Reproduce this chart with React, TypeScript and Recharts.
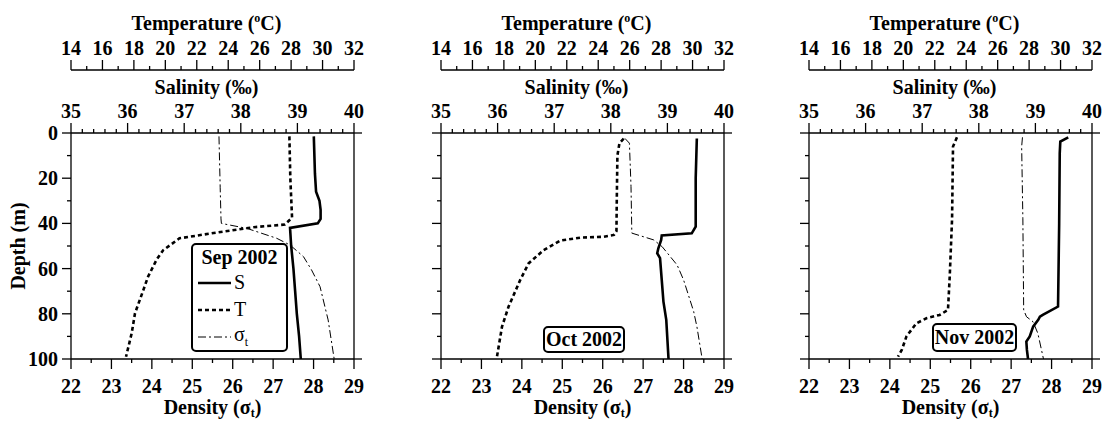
import React from 'react';
import { ScatterChart, Scatter, XAxis, YAxis, Legend } from 'recharts';

type Pt = { d: number; v: number };

// axis labels
const TEMP_LABELS = [14, 16, 18, 20, 22, 24, 26, 28, 30, 32];
const SAL_LABELS = [35, 36, 37, 38, 39, 40];
const DENS_LABELS = [22, 23, 24, 25, 26, 27, 28, 29];
const DEPTH_LABELS = [0, 20, 40, 60, 80, 100];
const MONTHS = ['Sep 2002', 'Oct 2002', 'Nov 2002'];
const SERIES_NAMES = ['S', 'T', 'σt'];

// Sep 2002 profiles (depth m, value)
const sepS: Pt[] = [
  { d: 1.5, v: 39.29 }, { d: 18, v: 39.31 }, { d: 26, v: 39.33 }, { d: 30, v: 39.39 },
  { d: 34, v: 39.41 }, { d: 38, v: 39.41 }, { d: 40, v: 39.36 }, { d: 42, v: 38.87 },
  { d: 50, v: 38.89 }, { d: 60, v: 38.93 }, { d: 70, v: 38.96 }, { d: 80, v: 38.99 },
  { d: 90, v: 39.03 }, { d: 100, v: 39.06 },
];
const sepT: Pt[] = [
  { d: 1.5, v: 27.89 }, { d: 20, v: 27.95 }, { d: 37.5, v: 28.06 }, { d: 40.5, v: 27.6 },
  { d: 41.7, v: 25.6 }, { d: 44, v: 23.3 }, { d: 46.6, v: 20.9 }, { d: 51.8, v: 19.87 },
  { d: 56, v: 19.45 }, { d: 63.6, v: 18.9 }, { d: 69.5, v: 18.6 }, { d: 79.8, v: 18.07 },
  { d: 88.6, v: 17.86 }, { d: 99, v: 17.5 },
];
const sepD: Pt[] = [
  { d: 1.5, v: 25.66 }, { d: 24, v: 25.69 }, { d: 38, v: 25.71 }, { d: 40, v: 25.72 },
  { d: 42.2, v: 26.35 }, { d: 46.6, v: 27.09 }, { d: 49.6, v: 27.42 }, { d: 54.7, v: 27.75 },
  { d: 60.6, v: 27.95 }, { d: 68, v: 28.16 }, { d: 82.7, v: 28.36 }, { d: 100, v: 28.51 },
];

// Oct 2002
const octS: Pt[] = [
  { d: 2.4, v: 39.52 }, { d: 20, v: 39.5 }, { d: 41.4, v: 39.5 }, { d: 44.4, v: 39.43 },
  { d: 45.3, v: 38.9 }, { d: 47.3, v: 38.89 }, { d: 51, v: 38.84 }, { d: 53.2, v: 38.82 },
  { d: 55.4, v: 38.87 }, { d: 65, v: 38.9 }, { d: 74.6, v: 38.93 }, { d: 82.7, v: 38.98 },
  { d: 100, v: 39.02 },
];
const octT: Pt[] = [
  { d: 2.5, v: 25.62 }, { d: 4.5, v: 25.35 }, { d: 10, v: 25.22 }, { d: 30, v: 25.18 },
  { d: 43.4, v: 25.16 }, { d: 45.1, v: 25.0 }, { d: 45.9, v: 24.34 }, { d: 46.3, v: 22.86 },
  { d: 47.6, v: 21.59 }, { d: 51.8, v: 20.53 }, { d: 57.7, v: 19.57 }, { d: 65, v: 19.04 },
  { d: 76.8, v: 18.3 }, { d: 85.7, v: 17.88 }, { d: 99, v: 17.56 },
];
const octD: Pt[] = [
  { d: 2.4, v: 26.55 }, { d: 4.5, v: 26.66 }, { d: 23.7, v: 26.7 }, { d: 44.3, v: 26.72 },
  { d: 47.3, v: 27.26 }, { d: 50.3, v: 27.47 }, { d: 58.4, v: 27.84 }, { d: 65, v: 28.0 },
  { d: 79, v: 28.25 }, { d: 85.7, v: 28.33 }, { d: 100, v: 28.46 },
];

// Nov 2002
const novS: Pt[] = [
  { d: 1.9, v: 39.58 }, { d: 3.8, v: 39.44 }, { d: 9, v: 39.43 }, { d: 40, v: 39.42 },
  { d: 76.8, v: 39.4 }, { d: 80.5, v: 39.13 }, { d: 81.3, v: 39.08 }, { d: 82.7, v: 39.05 },
  { d: 85.7, v: 38.96 }, { d: 90, v: 38.9 }, { d: 92.3, v: 38.84 }, { d: 96, v: 38.85 },
  { d: 100, v: 38.87 },
];
const novT: Pt[] = [
  { d: 1.9, v: 23.41 }, { d: 6, v: 23.16 }, { d: 38, v: 23.1 }, { d: 63.6, v: 22.95 },
  { d: 78.3, v: 22.84 }, { d: 80.5, v: 22.31 }, { d: 82, v: 21.47 }, { d: 84.2, v: 20.83 },
  { d: 90, v: 20.2 }, { d: 96, v: 19.9 }, { d: 99, v: 19.66 },
];
const novD: Pt[] = [
  { d: 1.9, v: 27.28 }, { d: 6, v: 27.26 }, { d: 38, v: 27.29 }, { d: 78.3, v: 27.31 },
  { d: 81.3, v: 27.38 }, { d: 83.5, v: 27.54 }, { d: 88.6, v: 27.66 }, { d: 100, v: 27.8 },
];

const FONT = "'Liberation Serif', 'Times New Roman', Times, serif";
const TICK_FONT: React.CSSProperties = { fontFamily: FONT, fontWeight: 'bold', fontSize: 20, fill: '#000' };
const AX = '#000';
const TS = 10;
const TM = 4;
const OFF = TS + TM;

const withMinor = (major: number[], parts: number) =>
  major.flatMap((m, i) =>
    i === major.length - 1
      ? [m]
      : Array.from({ length: parts }, (_, k) => +(m + ((major[i + 1] - m) * k) / parts).toFixed(3))
  );

const isIn = (arr: number[], v: number) => arr.some((a) => Math.abs(a - v) < 1e-6);

const xTick = (side: 'top' | 'bottom', labels: number[]) => (p: any) => {
  const v = p.payload.value;
  const major = isIn(labels, v);
  const ly = side === 'top' ? p.y + OFF : p.y - OFF;
  const dir = side === 'top' ? -1 : 1;
  return (
    <g>
      <line x1={p.x} x2={p.x} y1={ly} y2={ly + dir * (major ? 10 : 4)} stroke={AX} strokeWidth={1.3} />
      {major && (
        <text x={p.x} y={side === 'top' ? ly - 15 : ly + 34} textAnchor="middle" style={TICK_FONT}>
          {v}
        </text>
      )}
    </g>
  );
};

const yTickLeft = (showLabels: boolean) => (p: any) => {
  const v = p.payload.value;
  const major = isIn(DEPTH_LABELS, v);
  const lx = p.x + OFF;
  return (
    <g>
      <line x1={lx} x2={lx - (major ? 9 : 4)} y1={p.y} y2={p.y} stroke={AX} strokeWidth={1.3} />
      {major && showLabels && (
        <text x={lx - 13} y={p.y + 7} textAnchor="end" style={TICK_FONT}>
          {v}
        </text>
      )}
    </g>
  );
};

const yTickRight = (p: any) => {
  const lx = p.x - OFF;
  return <line x1={lx} x2={lx + 8} y1={p.y} y2={p.y} stroke={AX} strokeWidth={1.3} />;
};

const titleStyle: React.CSSProperties = { fontFamily: FONT, fontWeight: 'bold', fontSize: 20, fill: '#000' };

const tempTitle = (p: any) => {
  const vb = p.viewBox;
  return (
    <text x={vb.x + vb.width / 2 - 6} y={vb.y + vb.height - 40} textAnchor="middle" style={titleStyle}>
      Temperature (<tspan fontSize={12} dy={-8}>o</tspan>
      <tspan dy={8}>C)</tspan>
    </text>
  );
};

const salTitle = (p: any) => {
  const vb = p.viewBox;
  return (
    <text x={vb.x + vb.width / 2 - 6} y={vb.y + vb.height - 39} textAnchor="middle" style={titleStyle}>
      Salinity (‰)
    </text>
  );
};

const densTitle = (p: any) => {
  const vb = p.viewBox;
  return (
    <text x={vb.x + vb.width / 2} y={vb.y + 55} textAnchor="middle" style={titleStyle}>
      Density (σ<tspan fontSize={12} dy={3}>t</tspan>
      <tspan dy={-3}>)</tspan>
    </text>
  );
};

const depthTitle = (p: any) => {
  const vb = p.viewBox;
  const cx = vb.x + 18;
  const cy = vb.y + vb.height / 2;
  return (
    <text
      x={cx}
      y={cy}
      transform={`rotate(-90 ${cx} ${cy})`}
      textAnchor="middle"
      dominantBaseline="central"
      style={titleStyle}
    >
      Depth (m)
    </text>
  );
};

const LINE_S = { stroke: '#000', strokeWidth: 2.6 };
const LINE_T = { stroke: '#000', strokeWidth: 2.6, strokeDasharray: '4 3' };
const LINE_D = { stroke: '#000', strokeWidth: 1, strokeDasharray: '8 3 2 3' };
const LINES = [LINE_S, LINE_T, LINE_D];

const noDot = () => <g />;

const boxBase: React.CSSProperties = {
  boxSizing: 'border-box',
  border: '2px solid #000',
  borderRadius: 5,
  background: '#fff',
  fontFamily: FONT,
  fontSize: 20,
  color: '#000',
};

const FullLegend = ({ title }: { title: string }) => (
  <div style={{ ...boxBase, width: 97, height: 109, padding: '0 5px' }}>
    <div style={{ fontWeight: 'bold', lineHeight: '24px', textAlign: 'center', color: '#000' }}>{title}</div>
    {SERIES_NAMES.map((n, i) => (
      <div key={n} style={{ display: 'flex', alignItems: 'center', height: 27, color: '#000' }}>
        <svg width={33} height={10} style={{ marginRight: 3 }}>
          <line x1={0} x2={33} y1={5} y2={5} {...LINES[i]} />
        </svg>
        <span style={{ color: '#000' }}>
          {i === 2 ? (
            <>
              σ<sub style={{ fontSize: 12, color: '#000' }}>t</sub>
            </>
          ) : (
            n
          )}
        </span>
      </div>
    ))}
  </div>
);

const MonthBox = ({ title, w, h }: { title: string; w: number; h: number }) => (
  <div
    style={{
      ...boxBase,
      width: w,
      height: h,
      fontWeight: 'bold',
      display: 'flex',
      alignItems: 'center',
      justifyContent: 'center',
    }}
  >
    {title}
  </div>
);

type PanelProps = {
  s: Pt[];
  t: Pt[];
  dens: Pt[];
  first: boolean;
  legend: React.ReactNode;
  legendPos: { left: number; top: number };
};

function Panel({ s, t, dens, first, legend, legendPos }: PanelProps) {
  return (
    <ScatterChart width={370} height={423} margin={{ top: 7, right: 0, bottom: 4, left: 0 }}>
      <XAxis
        xAxisId="sal"
        type="number"
        dataKey="v"
        orientation="top"
        height={63}
        domain={[35, 40]}
        allowDataOverflow
        ticks={withMinor(SAL_LABELS, 5)}
        interval={0}
        tickSize={TS}
        tickMargin={TM}
        tickLine={false}
        tick={xTick('top', SAL_LABELS)}
        axisLine={{ stroke: AX, strokeWidth: 1.3 }}
        label={salTitle}
      />
      <XAxis
        xAxisId="temp"
        type="number"
        dataKey="v"
        orientation="top"
        height={63}
        domain={[14, 32]}
        allowDataOverflow
        ticks={withMinor(TEMP_LABELS, 2)}
        interval={0}
        tickSize={TS}
        tickMargin={TM}
        tickLine={false}
        tick={xTick('top', TEMP_LABELS)}
        axisLine={{ stroke: AX, strokeWidth: 1.3 }}
        label={tempTitle}
      />
      <XAxis
        xAxisId="dens"
        type="number"
        dataKey="v"
        orientation="bottom"
        height={60}
        domain={[22, 29]}
        allowDataOverflow
        ticks={withMinor(DENS_LABELS, 2)}
        interval={0}
        tickSize={TS}
        tickMargin={TM}
        tickLine={false}
        tick={xTick('bottom', DENS_LABELS)}
        axisLine={{ stroke: AX, strokeWidth: 1.3 }}
        label={densTitle}
      />
      <YAxis
        yAxisId="depth"
        type="number"
        dataKey="d"
        width={71}
        reversed
        domain={[0, 100]}
        allowDataOverflow
        ticks={withMinor(DEPTH_LABELS, 2)}
        interval={0}
        tickSize={TS}
        tickMargin={TM}
        tickLine={false}
        tick={yTickLeft(first)}
        axisLine={{ stroke: AX, strokeWidth: 1.3 }}
        label={first ? depthTitle : undefined}
      />
      <YAxis
        yAxisId="depthR"
        type="number"
        orientation="right"
        width={16}
        reversed
        domain={[0, 100]}
        allowDataOverflow
        ticks={[0, 100]}
        interval={0}
        tickSize={TS}
        tickMargin={TM}
        tickLine={false}
        tick={yTickRight}
        axisLine={{ stroke: AX, strokeWidth: 1.3 }}
      />
      <Scatter
        name="σt"
        data={dens}
        xAxisId="dens"
        yAxisId="depth"
        fill="#000"
        line={LINE_D}
        lineType="joint"
        shape={noDot}
        isAnimationActive={false}
      />
      <Scatter
        name="T"
        data={t}
        xAxisId="temp"
        yAxisId="depth"
        fill="#000"
        line={LINE_T}
        lineType="joint"
        shape={noDot}
        isAnimationActive={false}
      />
      <Scatter
        name="S"
        data={s}
        xAxisId="sal"
        yAxisId="depth"
        fill="#000"
        line={LINE_S}
        lineType="joint"
        shape={noDot}
        isAnimationActive={false}
      />
      <Legend
        layout="horizontal"
        verticalAlign="middle"
        align="center"
        wrapperStyle={{ left: legendPos.left, top: legendPos.top, width: 'auto', height: 'auto' }}
        content={() => legend}
      />
    </ScatterChart>
  );
}

export default function App() {
  return (
    <div style={{ position: 'absolute', left: 0, top: 0, width: 1111, height: 423, background: '#fff' }}>
      <div style={{ position: 'absolute', left: 0, top: 0 }}>
        <Panel
          s={sepS}
          t={sepT}
          dens={sepD}
          first
          legend={<FullLegend title={MONTHS[0]} />}
          legendPos={{ left: 191, top: 243 }}
        />
      </div>
      <div style={{ position: 'absolute', left: 370, top: 0 }}>
        <Panel
          s={octS}
          t={octT}
          dens={octD}
          first={false}
          legend={<MonthBox title={MONTHS[1]} w={82} h={27} />}
          legendPos={{ left: 173, top: 326 }}
        />
      </div>
      <div style={{ position: 'absolute', left: 738, top: 0 }}>
        <Panel
          s={novS}
          t={novT}
          dens={novD}
          first={false}
          legend={<MonthBox title={MONTHS[2]} w={85} h={29} />}
          legendPos={{ left: 194, top: 323 }}
        />
      </div>
    </div>
  );
}
